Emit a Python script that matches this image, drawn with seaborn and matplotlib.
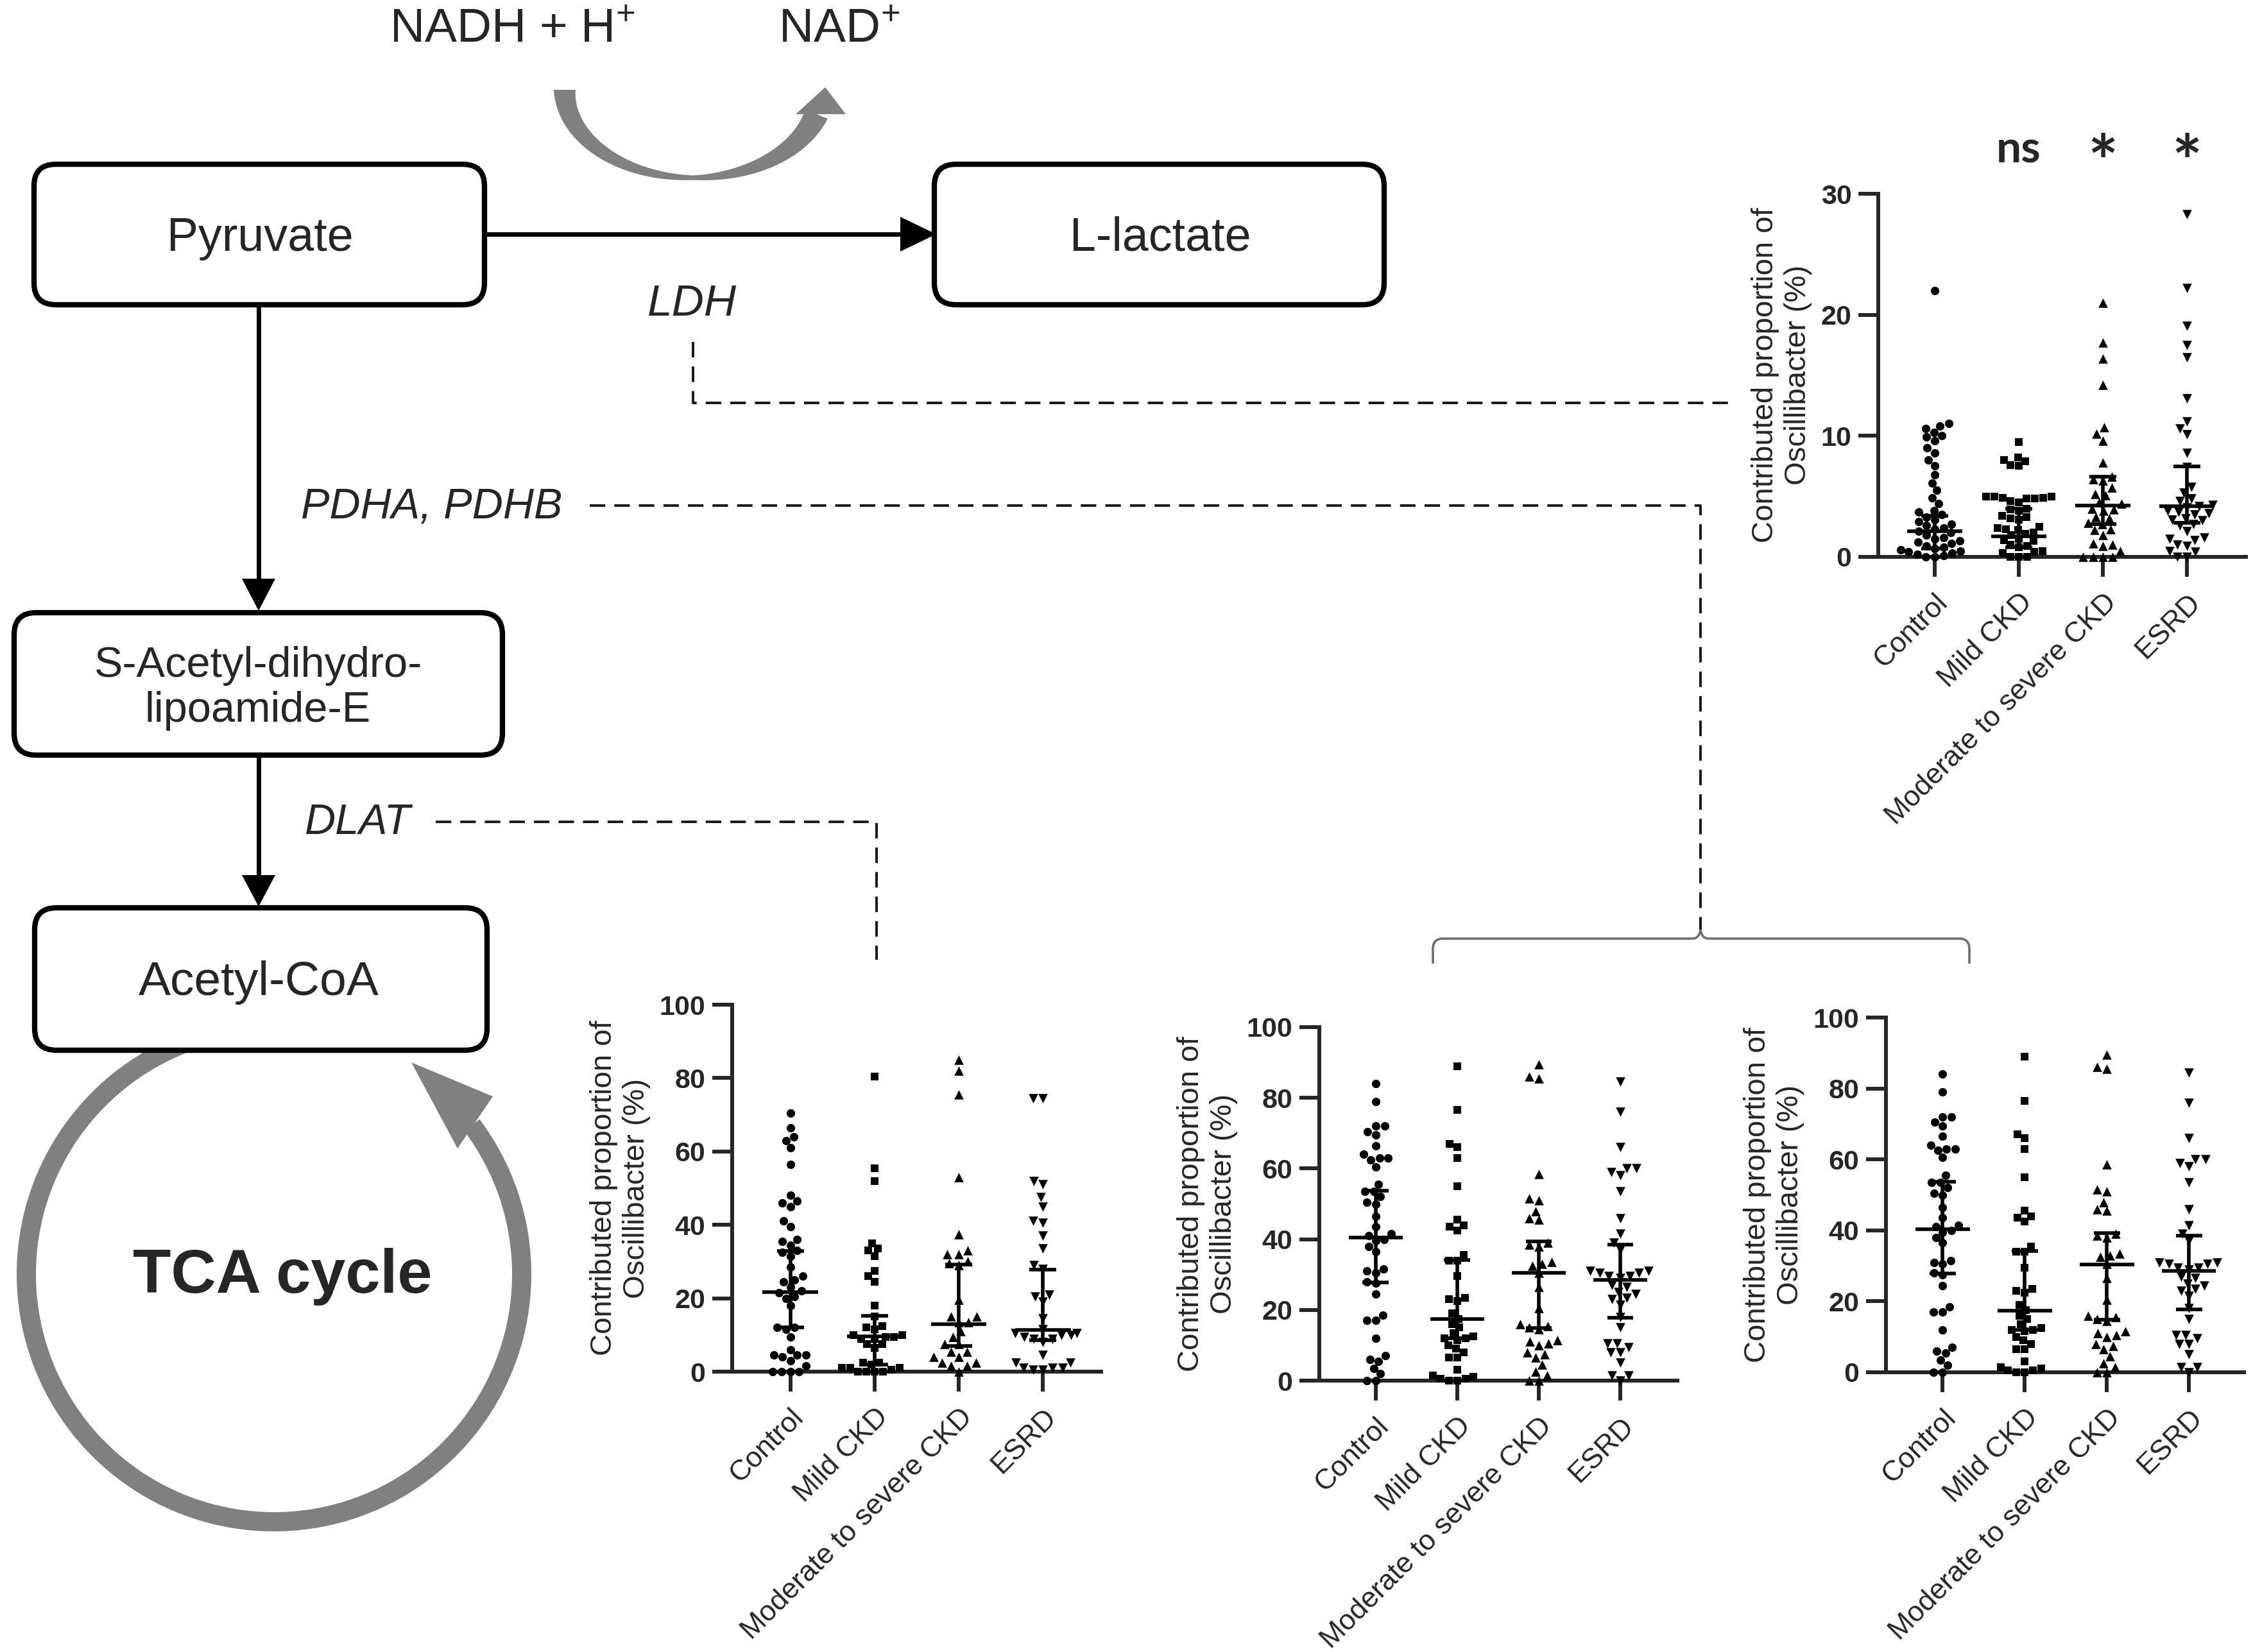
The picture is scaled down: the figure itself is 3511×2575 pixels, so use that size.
import warnings
import numpy as np
import pandas as pd
import matplotlib
matplotlib.use('Agg')
import matplotlib.pyplot as plt
import matplotlib.transforms as mtransforms
from matplotlib.patches import FancyBboxPatch, Polygon, Arc, PathPatch
from matplotlib.path import Path
import seaborn as sns

warnings.filterwarnings('ignore')

groups = ['Control', 'Mild CKD', 'Moderate to severe CKD', 'ESRD']
markers = ['o', 's', '^', 'v']

# LDH panel (top right)
ldh_control = [22.0, 11.0, 10.8, 10.6, 10.3, 10.0, 9.9, 9.6, 9.0, 8.6, 8.0, 7.5, 6.8, 6.1,
               5.5, 4.9, 4.4, 3.8, 3.7, 3.5, 3.3, 3.1, 2.9, 2.7, 2.6, 2.4, 2.3, 2.1, 2.0,
               1.8, 1.6, 1.5, 1.3, 1.2, 1.1, 0.9, 0.8, 0.7, 0.6, 0.5, 0.4, 0.3, 0.2, 0.1,
               0.0, 0.0]
ldh_mild = [9.5, 8.2, 8.0, 7.9, 7.6, 7.5, 5.0, 5.0, 5.0, 4.9, 4.9, 4.8, 4.8, 4.6, 4.5,
            4.0, 3.9, 3.8, 3.4, 3.3, 3.2, 3.1, 2.5, 2.4, 2.3, 2.2, 2.0, 1.9, 1.8, 1.5,
            1.4, 1.3, 1.0, 0.9, 0.8, 0.5, 0.4, 0.3, 0.0, 0.0, 0.0]
ldh_moderate = [21.0, 17.7, 16.4, 14.2, 10.7, 10.2, 9.6, 7.8, 6.6, 6.4, 6.3, 5.7, 5.2,
                5.1, 4.5, 4.4, 4.0, 3.9, 3.8, 3.3, 3.2, 2.8, 2.7, 2.3, 2.2, 1.8, 1.1,
                1.0, 0.9, 0.5, 0.0, 0.0, 0.0, 0.0]
ldh_esrd = [28.3, 22.2, 19.1, 17.5, 16.5, 13.1, 11.2, 10.6, 10.1, 8.6, 7.4, 5.8, 5.3,
            4.8, 4.6, 4.3, 4.2, 4.1, 3.8, 3.7, 3.6, 3.5, 3.2, 3.1, 3.0, 2.7, 2.6, 2.1,
            1.6, 1.5, 1.4, 1.0, 0.9, 0.5, 0.4, 0.0, 0.0]
ldh_median = [2.1, 1.7, 4.25, 4.2]
ldh_q1 = [0.7, 0.8, 2.7, 2.8]
ldh_q3 = [3.4, 4.0, 6.6, 7.45]
ldh_sig = ['', 'ns', '*', '*']

# DLAT panel (bottom left)
dlat_control = [70.5, 66.5, 64, 63, 61, 56.5, 48, 46.5, 46, 45, 41, 39.5, 36, 35.5, 34.5,
                33, 32.5, 31.5, 28.5, 26, 25, 24.5, 23, 22, 21.5, 20.5, 20, 18, 12, 12,
                11.5, 9.5, 6, 4.5, 4.5, 4.5, 4, 3, 1.5, 0, 0, 0, 0]
dlat_mild = [80.5, 55.5, 52, 35, 33.5, 33, 31.5, 27.5, 26, 24.5, 18, 15, 12.5, 12, 11.5,
             10, 10, 9.5, 9.5, 9, 9, 7.5, 7.5, 6.5, 2.5, 2.5, 2, 1, 1, 1, 0.5, 0, 0, 0, 0]
dlat_moderate = [85, 82, 75.5, 53, 37.5, 33, 32, 32, 30, 29.5, 29, 19.5, 15, 15, 13.5,
                 13.5, 11, 9.5, 7.5, 7.5, 5.5, 5.5, 4, 4, 2.5, 2.5, 1.5, 1.5, 0]
dlat_esrd = [74.5, 74.5, 52, 51, 47.5, 45, 41, 40.5, 37, 33.5, 29, 28, 21, 20.5, 19, 14.5,
             11.5, 10.5, 10.5, 10, 10, 9.5, 9, 9, 8, 4.5, 2.5, 2.5, 1, 1, 1, 0.5, 0.5]
dlat_median = [21.6, 9.6, 12.9, 11.3]
dlat_q1 = [12.0, 2.0, 7.0, 8.5]
dlat_q3 = [32.8, 15.2, 29.2, 27.8]

# PDHA / PDHB panels (bottom middle and bottom right show the same values)
pdh_control = [84, 79, 72, 72, 70.5, 69.5, 66.5, 64, 63, 63, 62.5, 60.5, 55.5, 53.5, 53.5,
               52, 50.5, 50, 46.5, 43.5, 41.5, 41, 40, 39.5, 38, 36.5, 31.5, 31, 30.5, 28,
               27.5, 24.5, 18.5, 17, 17, 12, 7, 6, 5.5, 3.5, 2, 0, 0]
pdh_mild = [89, 76.5, 67, 66, 63, 55, 45.5, 44, 43.5, 42.5, 35.5, 34, 34, 29.5, 23.5, 23,
            22.5, 19, 17.5, 16, 15, 13.5, 12.5, 12, 12, 11.5, 10, 9, 8, 6.5, 6.5, 3, 1.5,
            1, 0.5, 0.5, 0, 0]
pdh_moderate = [89.5, 86, 85.5, 58.5, 51.5, 51, 48, 46, 45.5, 39, 38.5, 38, 33.5, 33, 32.5,
                30.5, 26.5, 20.5, 16, 15.5, 15, 14.5, 11.5, 11, 10.5, 10, 8, 7.5, 6.5, 4.5,
                2.5, 1.5, 0, 0]
pdh_esrd = [84.5, 76, 66, 60, 60, 59, 58, 53.5, 46, 41.5, 39, 37, 31, 31, 30.5, 30.5, 29.5,
            29.5, 29, 27, 26.5, 25, 24.5, 23.5, 23, 21.5, 18, 15, 10.5, 10.5, 9.5, 8, 8, 5,
            1.5, 1.5, 0]
pdh_median = [40.4, 17.4, 30.4, 28.5]
pdh_q1 = [27.8, 11.9, 14.8, 17.8]
pdh_q3 = [53.7, 34.1, 39.3, 38.5]

W, H = 3512, 2575
GRAY = '#808080'

sns.set_style('ticks')
plt.rcParams['font.family'] = ['Liberation Sans', 'DejaVu Sans']
plt.rcParams['mathtext.fontset'] = 'custom'
plt.rcParams['mathtext.rm'] = 'Liberation Sans'
plt.rcParams['mathtext.it'] = 'Liberation Sans:italic'
plt.rcParams['mathtext.bf'] = 'Liberation Sans:bold'

fig = plt.figure(figsize=(W / 100, H / 100), dpi=100)

# ---------- pathway diagram, drawn in pixel coordinates ----------
bg = fig.add_axes([0, 0, 1, 1])
bg.set_xlim(0, W)
bg.set_ylim(H, 0)
bg.axis('off')


def box(x0, y0, x1, y1):
    bg.add_patch(FancyBboxPatch((x0, y0), x1 - x0, y1 - y0,
                                boxstyle='round,pad=0,rounding_size=34',
                                fc='white', ec='black', lw=6, zorder=3))


def head(tip, b1, b2, color='black'):
    bg.add_patch(Polygon([tip, b1, b2], closed=True, fc=color, ec='none', zorder=4))


def dashed(xs, ys):
    bg.plot(xs, ys, color='#1a1a1a', lw=2.9, dashes=(6, 3.5), zorder=2)


box(53, 256, 755, 475)      # Pyruvate
box(1456, 256, 2157, 475)   # L-lactate
box(22, 955, 783, 1177)     # S-Acetyl-dihydro-lipoamide-E
box(54, 1415, 759, 1637)    # Acetyl-CoA

# solid reaction arrows
bg.plot([755, 1405], [365, 365], color='black', lw=5, solid_capstyle='butt', zorder=2)
head((1459, 365), (1403, 338), (1403, 392))
bg.plot([403, 403], [475, 905], color='black', lw=5, solid_capstyle='butt', zorder=2)
head((403, 952), (377, 902), (429, 902))
bg.plot([403, 403], [1177, 1366], color='black', lw=5, solid_capstyle='butt', zorder=2)
head((403, 1413), (377, 1364), (429, 1364))

# NADH -> NAD+ tapered gray arrow
t = np.linspace(np.pi, np.radians(16), 120)
cx, cy, rx, ry = 1080, 140, 200, 137
xs = cx + rx * np.cos(t)
ys = cy + ry * np.sin(t)
dx, dy = -rx * np.sin(t), ry * np.cos(t)
nrm = np.hypot(dx, dy)
nx, ny = dy / nrm, -dx / nrm
u = np.linspace(0, 1, len(t))
w = np.interp(u, [0, 0.55, 1], [34, 7, 38]) / 2
outline = np.vstack([np.column_stack([xs + nx * w, ys + ny * w]),
                     np.column_stack([xs - nx * w, ys - ny * w])[::-1]])
bg.add_patch(Polygon(outline, closed=True, fc=GRAY, ec='none', zorder=2))
head((1286, 136), (1240, 178), (1318, 178), color=GRAY)

# TCA cycle ring
bg.add_patch(Arc((427, 1986), 772, 772, theta1=-37, theta2=249, color=GRAY, lw=21.6, zorder=1))
head((641, 1656), (713, 1790), (768, 1709), color=GRAY)

# dashed links to the plots
dashed([1080, 1080, 2695], [533, 628, 628])
dashed([919, 2650, 2650], [788, 788, 1450])
dashed([679, 1366, 1366], [1281, 1281, 1496])

# brace over the two PDHA/PDHB panels
by, bl, br, bc, r = 1463, 2233, 3069, 2650, 16
verts = [(bl, 1502), (bl, by + r), (bl, by), (bl + r, by), (bc - 12, by),
         (bc - 2, by), (bc, by - 14), (bc + 2, by), (bc + 12, by),
         (br - r, by), (br, by), (br, by + r), (br, 1502)]
codes = [Path.MOVETO, Path.LINETO, Path.CURVE3, Path.CURVE3, Path.LINETO,
         Path.CURVE3, Path.CURVE3, Path.CURVE3, Path.CURVE3,
         Path.LINETO, Path.CURVE3, Path.CURVE3, Path.LINETO]
bg.add_patch(PathPatch(Path(verts, codes), fc='none', ec='#6e6e6e', lw=2.6, zorder=2))

# diagram text
bg.text(798, 47, r'NADH + H$^{+}$', fontsize=54, ha='center', va='center')
bg.text(1308, 47, r'NAD$^{+}$', fontsize=54, ha='center', va='center')
bg.text(405, 371, 'Pyruvate', fontsize=53, ha='center', va='center', zorder=5)
bg.text(1808, 371, 'L-lactate', fontsize=53, ha='center', va='center', zorder=5)
bg.text(1078, 474, 'LDH', fontsize=50, style='italic', ha='center', va='center')
bg.text(673, 790, 'PDHA, PDHB', fontsize=48, style='italic', ha='center', va='center')
bg.text(402, 1073, 'S-Acetyl-dihydro-\nlipoamide-E', fontsize=48, ha='center',
        va='center', linespacing=1.15, zorder=5)
bg.text(558, 1283, 'DLAT', fontsize=48, style='italic', ha='center', va='center')
bg.text(403, 1531, 'Acetyl-CoA', fontsize=54, ha='center', va='center', zorder=5)
bg.text(440, 1990, 'TCA cycle', fontsize=70, fontweight='bold', ha='center', va='center')


# ---------- scatter panels ----------
def px_axes(left, top, right, bottom):
    return fig.add_axes([left / W, 1 - bottom / H, (right - left) / W, (bottom - top) / H])


def draw_panel(ax, vals, med, q1, q3, ymax, ystep, xlim):
    df = pd.DataFrame({
        'group': np.repeat(groups, [len(v) for v in vals]),
        'value': np.concatenate(vals),
    })
    ax.set_facecolor('none')
    ax.set_xlim(*xlim)
    ax.set_ylim(0, ymax)
    sizes = {'o': 9.5, 's': 9, '^': 10.5, 'v': 10.5}
    for g, m in zip(groups, markers):
        sns.swarmplot(data=df[df['group'] == g], x='group', y='value', order=groups,
                      marker=m, color='black', size=sizes[m], linewidth=0,
                      ax=ax, clip_on=False, zorder=3)
    x = np.arange(len(groups))
    lk = dict(color='black', lw=4, zorder=5, clip_on=False)
    ax.hlines(med, x - 0.33, x + 0.33, **lk)
    ax.hlines(q1, x - 0.16, x + 0.16, **lk)
    ax.hlines(q3, x - 0.16, x + 0.16, **lk)
    ax.vlines(x, q1, q3, **lk)
    ax.set_xlim(*xlim)
    ax.set_ylim(0, ymax)
    yt = np.arange(0, ymax + 1, ystep)
    ax.set_yticks(yt)
    ax.set_yticklabels([str(v) for v in yt], fontsize=31)
    for lab in ax.get_yticklabels():
        lab.set_fontweight('bold')
    ax.set_xticks(x)
    ax.set_xticklabels(groups, rotation=45, ha='right', rotation_mode='anchor', fontsize=32)
    ax.set_xlabel('')
    ax.set_ylabel('Contributed proportion of\nOscillibacter (%)', fontsize=34, labelpad=10)
    for s in ['top', 'right']:
        ax.spines[s].set_visible(False)
    for s in ['left', 'bottom']:
        ax.spines[s].set_linewidth(4.3)
    ax.tick_params(axis='both', length=22, width=4.3, direction='out', pad=8)
    ax.tick_params(axis='x', pad=14)


ax1 = px_axes(2927, 302, 3500, 868)
draw_panel(ax1, [ldh_control, ldh_mild, ldh_moderate, ldh_esrd],
           ldh_median, ldh_q1, ldh_q3, 30, 10, (-0.67, 3.70))
trans = mtransforms.blended_transform_factory(ax1.transData, ax1.transAxes)
for i, s in enumerate(ldh_sig):
    if s == 'ns':
        ax1.text(i, 1.12, s, transform=trans, ha='center', va='center',
                 fontsize=50, fontweight='bold', family=['Lato', 'DejaVu Sans'])
    elif s:
        ax1.text(i, 1.075, s, transform=trans, ha='center', va='center',
                 fontsize=80, fontweight='bold', family=['Lato', 'DejaVu Sans'])

ax2 = px_axes(1141, 1566, 1716, 2138)
draw_panel(ax2, [dlat_control, dlat_mild, dlat_moderate, dlat_esrd],
           dlat_median, dlat_q1, dlat_q3, 100, 20, (-0.69, 3.69))

ax3 = px_axes(2056, 1601, 2614, 2152)
draw_panel(ax3, [pdh_control, pdh_mild, pdh_moderate, pdh_esrd],
           pdh_median, pdh_q1, pdh_q3, 100, 20, (-0.69, 3.70))

ax4 = px_axes(2939, 1586, 3497, 2139)
draw_panel(ax4, [pdh_control, pdh_mild, pdh_moderate, pdh_esrd],
           pdh_median, pdh_q1, pdh_q3, 100, 20, (-0.69, 3.67))

fig.savefig('out.png', dpi=100)
